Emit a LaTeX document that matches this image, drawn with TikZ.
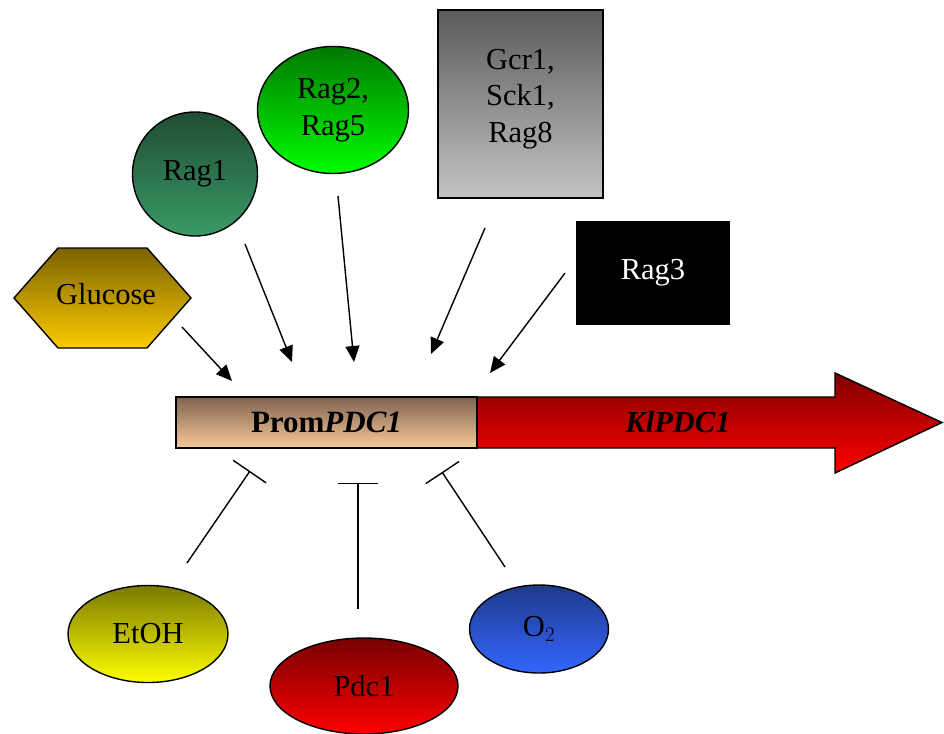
\documentclass[tikz,border=0pt]{standalone}
\usepackage{fontspec}
\setmainfont{Liberation Serif}
\usetikzlibrary{arrows.meta,shapes.geometric}
\definecolor{gluT}{HTML}{7A6200}\definecolor{gluB}{HTML}{FCCB00}
\definecolor{r1T}{HTML}{1F4D33}\definecolor{r1B}{HTML}{3A9A68}
\definecolor{r2T}{HTML}{007800}\definecolor{r2B}{HTML}{00FF00}
\definecolor{gcT}{HTML}{5A5A5A}\definecolor{gcB}{HTML}{C4C4C4}
\definecolor{prT}{HTML}{7F6350}\definecolor{prB}{HTML}{F9C999}
\definecolor{kpT}{HTML}{800000}\definecolor{kpB}{HTML}{FF0000}
\definecolor{etT}{HTML}{7A7A00}\definecolor{etB}{HTML}{FFFF00}
\definecolor{pdT}{HTML}{780000}\definecolor{pdB}{HTML}{FF0000}
\definecolor{oxT}{HTML}{1F3A8A}\definecolor{oxB}{HTML}{3366FF}
\begin{document}
\begin{tikzpicture}[x=1pt,y=-1pt,
  lbl/.style={font=\fontsize{30.5}{36.5}\selectfont, align=center},
  shapeline/.style={draw=black, line width=1.4pt},
  oval/.style={ellipse, shapeline, lbl, inner sep=0pt},
  box/.style={rectangle, shapeline, lbl, inner sep=0pt},
  act/.style={line width=1.4pt, -{Triangle[length=16pt,width=14pt]}},
  inh/.style={line width=1.4pt, -{Bar[width=40pt]}}]
\useasboundingbox (0,0) rectangle (944,733);

% Glucose hexagon
\path[shapeline, top color=gluT, bottom color=gluB]
  (14,298) -- (58,248) -- (147,248) -- (191,298) -- (147,348) -- (58,348) -- cycle;
\node[lbl] (glucose) at (106,294) {Glucose};

% top regulators
\node[oval, top color=r1T, bottom color=r1B, minimum width=125pt, minimum height=124pt] (rag1) at (195,174) {Rag1};
\node[oval, top color=r2T, bottom color=r2B, minimum width=151pt, minimum height=127pt] (rag25) at (333,110) {Rag2,\\Rag5};
\node[box, top color=gcT, bottom color=gcB, minimum width=165pt, minimum height=188pt] (gcr) at (520.5,104) {};
\node[lbl] (gcrtext) at (520.5,99) {Gcr1,\\Sck1,\\Rag8};
\node[box, fill=black, text=white, minimum width=152pt, minimum height=102pt] (rag3) at (653,273) {Rag3};

% gene
\path[shapeline, top color=kpT, bottom color=kpB]
  (477,397) -- (835,397) -- (835,373) -- (942,422.5) -- (835,473) -- (835,448) -- (477,448) -- cycle;
\node[lbl, font=\fontsize{30.5}{36}\selectfont\bfseries\itshape] (klpdc) at (678,422.5) {KlPDC1};
\node[box, top color=prT, bottom color=prB, minimum width=301pt, minimum height=51pt, font=\fontsize{31}{36}\selectfont\bfseries] (prom) at (326.5,422.5) {Prom\textit{PDC1}};

% bottom regulators
\node[oval, top color=etT, bottom color=etB, minimum width=160pt, minimum height=97pt] (etoh) at (148,634) {EtOH};
\node[oval, top color=pdT, bottom color=pdB, minimum width=188pt, minimum height=96pt] (pdc) at (364,686) {Pdc1};
\node[oval, top color=oxT, bottom color=oxB, minimum width=139pt, minimum height=88pt] (oxy) at (539,629) {O$_2$};

% connector endpoints
\coordinate (gluS) at (182,327);  \coordinate (gluE) at (232,381);
\coordinate (r1S) at (245,244);   \coordinate (r1E) at (292,362);
\coordinate (r2S) at (338,196);   \coordinate (r2E) at (354,362);
\coordinate (gcS) at (485,228);   \coordinate (gcE) at (431,354);
\coordinate (r3S) at (565,273);   \coordinate (r3E) at (490,373);
\coordinate (etS) at (187,563);   \coordinate (etE) at (250,471);
\coordinate (pdS) at (358,609);   \coordinate (pdE) at (358,483);
\coordinate (oxS) at (505,567);   \coordinate (oxE) at (442,472);

\draw[act] (gluS) -- (gluE);
\draw[act] (r1S) -- (r1E);
\draw[act] (r2S) -- (r2E);
\draw[act] (gcS) -- (gcE);
\draw[act] (r3S) -- (r3E);
\draw[inh] (etS) -- (etE);
\draw[inh] (pdS) -- (pdE);
\draw[inh] (oxS) -- (oxE);
\end{tikzpicture}
\end{document}
